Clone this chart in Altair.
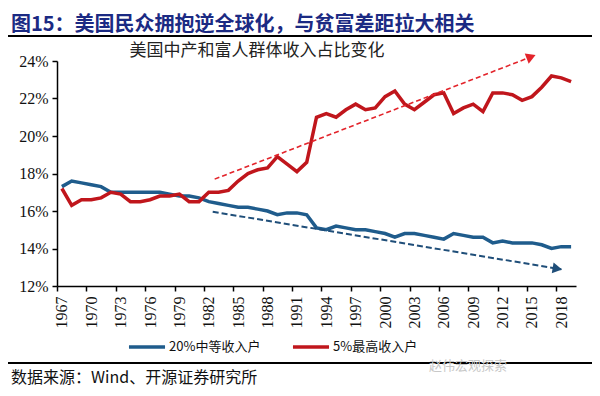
import math
import altair as alt
import pandas as pd

years = list(range(1967, 2020))
middle20 = [17.3, 17.6, 17.5, 17.4, 17.3, 17.0, 17.0, 17.0, 17.0, 17.0,
            17.0, 16.9, 16.8, 16.8, 16.7, 16.5, 16.4, 16.3, 16.2, 16.2,
            16.1, 16.0, 15.8, 15.9, 15.9, 15.8, 15.1, 15.0, 15.2, 15.1,
            15.0, 15.0, 14.9, 14.8, 14.6, 14.8, 14.8, 14.7, 14.6, 14.5,
            14.8, 14.7, 14.6, 14.6, 14.3, 14.4, 14.3, 14.3, 14.3, 14.2,
            14.0, 14.1, 14.1]
top5 = [17.2, 16.3, 16.6, 16.6, 16.7, 17.0, 16.9, 16.5, 16.5, 16.6,
        16.8, 16.8, 16.9, 16.5, 16.5, 17.0, 17.0, 17.1, 17.6, 18.0,
        18.2, 18.3, 18.9, 18.5, 18.1, 18.6, 21.0, 21.2, 21.0, 21.4,
        21.7, 21.4, 21.5, 22.1, 22.4, 21.7, 21.4, 21.8, 22.2, 22.3,
        21.2, 21.5, 21.7, 21.3, 22.3, 22.3, 22.2, 21.9, 22.1, 22.6,
        23.2, 23.1, 22.9]
series_names = ["20%中等收入户", "5%最高收入户"]
series_colors = ["#1F5C8C", "#C0161C"]
x_ticks = list(range(1967, 2019, 3))
y_ticks = [12, 14, 16, 18, 20, 22, 24]

# trend arrows: (start year, start value, end year, end value)
arrow_red = (1982.6, 17.7, 2015.3, 24.3)
arrow_blue = (1982.4, 15.96, 2018.0, 12.89)

title_text = "图15：美国民众拥抱逆全球化，与贫富差距拉大相关"
subtitle_text = "美国中产和富人群体收入占比变化"
source_text = "数据来源：Wind、开源证券研究所"
watermark_text = "赵伟宏观探索"

SERIF = "Liberation Serif"
CJK = "Noto Sans CJK SC"

W, H = 519, 225
X_DOM = [1966.5, 2019.5]
Y_DOM = [12, 24]
PX_X = W / (X_DOM[1] - X_DOM[0])
PX_Y = H / (Y_DOM[1] - Y_DOM[0])

df = pd.DataFrame({
    "year": years * 2,
    "value": middle20 + top5,
    "series": [series_names[0]] * len(years) + [series_names[1]] * len(years),
})

xs = alt.Scale(domain=X_DOM, nice=False, zero=False)
ys = alt.Scale(domain=Y_DOM, nice=False, zero=False)

XAXIS = alt.Axis(
    values=x_ticks, format="d", title=None, labelAngle=270,
    labelAlign="right", labelBaseline="middle", labelPadding=5,
    labelOverlap=False, labelFlush=False,
    tickOffset=-PX_X / 2, labelOffset=PX_X / 2, tickSize=5,
    labelFont=SERIF, labelFontSize=16, labelColor="#111",
    domainColor="#000", domainWidth=1.5, tickColor="#000", tickWidth=1.5,
    grid=False)
YAXIS = alt.Axis(
    values=y_ticks, labelExpr="datum.value + '%'", title=None, tickSize=5,
    labelOverlap=False, labelFlush=False,
    labelFont=SERIF, labelFontSize=16, labelColor="#111",
    labelPadding=4, domainColor="#000", domainWidth=1.5, tickColor="#000",
    tickWidth=1.5, grid=False)

lines = alt.Chart(df).mark_line(strokeWidth=3.5, strokeJoin="miter").encode(
    x=alt.X("year:Q", scale=xs, axis=XAXIS),
    y=alt.Y("value:Q", scale=ys, axis=YAXIS),
    color=alt.Color("series:N", scale=alt.Scale(domain=series_names, range=series_colors),
                    legend=alt.Legend(orient="none", legendX=70, legendY=266,
                                      direction="horizontal", title=None,
                                      symbolType="stroke", symbolSize=1300,
                                      symbolStrokeWidth=3.5, labelFont=CJK,
                                      labelFontSize=13, labelColor="#111",
                                      labelOffset=2, columnPadding=24)),
)


def arrow_layers(a, color, dash, width):
    y0, v0, y1, v1 = a
    dxp = (y1 - y0) * PX_X
    dyp = -(v1 - v0) * PX_Y
    L = math.hypot(dxp, dyp)
    ux, uy = dxp / L, dyp / L
    ang = math.degrees(math.atan2(dxp, -dyp)) % 360
    back = 4.0
    cx = y1 - back * ux / PX_X
    cv = v1 + back * uy / PX_Y
    shaft = alt.Chart(pd.DataFrame({"year": [y0], "value": [v0], "year2": [y1], "value2": [v1]})).mark_rule(
        color=color, strokeDash=dash, strokeWidth=width).encode(
        x=alt.X("year:Q", scale=xs, axis=XAXIS), y=alt.Y("value:Q", scale=ys, axis=YAXIS),
        x2="year2:Q", y2="value2:Q")
    head = alt.Chart(pd.DataFrame({"year": [cx], "value": [cv]})).mark_point(
        shape="triangle-up", filled=True, color=color, opacity=1, size=120, angle=ang).encode(
        x=alt.X("year:Q", scale=xs, axis=XAXIS), y=alt.Y("value:Q", scale=ys, axis=YAXIS))
    return [shaft, head]


def text_layer(txt, x, y, size, font=CJK, color="#111", weight="normal", align="left"):
    return alt.Chart(pd.DataFrame({"t": [txt]})).mark_text(
        align=align, baseline="middle", font=font, fontSize=size, color=color,
        fontWeight=weight).encode(x=alt.value(x), y=alt.value(y), text="t:N")


def hrule(y):
    return alt.Chart(pd.DataFrame({"k": [0]})).mark_rule(color="#000", strokeWidth=2).encode(
        x=alt.value(-49), x2=alt.value(535), y=alt.value(y))


layers = [lines]
layers += arrow_layers(arrow_red, "#E3242B", [5, 3], 1.6)
layers += arrow_layers(arrow_blue, "#1F4E79", [6, 3], 2)
layers += [
    text_layer(title_text, -46, -36, 20, color="#1B2A83", weight="bold"),
    hrule(-25),
    text_layer(subtitle_text, 200, -10, 17, color="#222", align="center"),
    hrule(302),
    text_layer(source_text, -46, 317, 16, color="#111"),
    text_layer(watermark_text, 372, 305, 13, color="#C8C8C8"),
]

chart = alt.layer(*layers).properties(
    width=W, height=H,
    autosize=alt.AutoSizeParams(type="none"),
    padding={"left": 49, "top": 53, "right": 16, "bottom": 102},
).configure_view(stroke=None).configure_axis(labelFont=SERIF)

chart.save("out.html", embed_options={"renderer": "svg", "actions": False})
